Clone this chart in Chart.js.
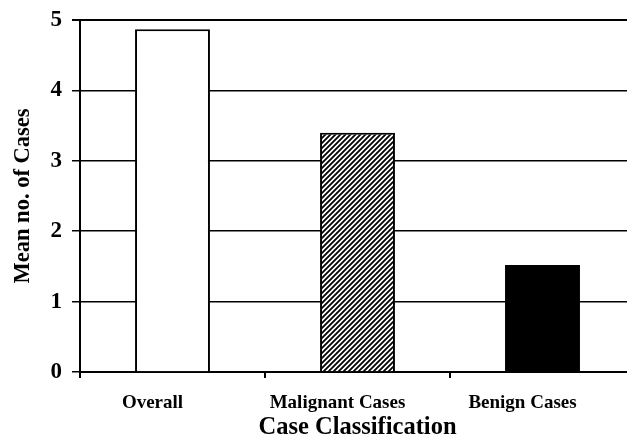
<!DOCTYPE html>
<html>
<head>
<meta charset="utf-8">
<script src="https://cdn.jsdelivr.net/npm/chart.js@4/dist/chart.umd.min.js"></script>
<style>
  html, body { margin: 0; padding: 0; background: #fff; overflow: hidden; }
  canvas { display: block; }
</style>
</head>
<body>
<canvas id="chart" width="660" height="442"></canvas>
<script>
// Mean number of cases by classification
const categories = ['Overall', 'Malignant Cases', 'Benign Cases'];
const meanCases = [4.87, 3.40, 1.52];
const yTicks = [0, 1, 2, 3, 4, 5];

const SERIF = '"Liberation Serif", "Times New Roman", serif';

// Fine diagonal hatch used for the malignant bar
function hatchPattern() {
  const size = 5;
  const c = document.createElement('canvas');
  c.width = size; c.height = size;
  const g = c.getContext('2d');
  g.fillStyle = '#fff';
  g.fillRect(0, 0, size, size);
  g.strokeStyle = '#000';
  g.lineWidth = 1.8;
  g.beginPath();
  g.moveTo(-1, size + 1); g.lineTo(size + 1, -1);
  g.moveTo(-1, 1); g.lineTo(1, -1);
  g.moveTo(size - 1, size + 1); g.lineTo(size + 1, size - 1);
  g.stroke();
  return g.createPattern(c, 'repeat');
}

const ctx = document.getElementById('chart').getContext('2d');
const fills = ['#ffffff', hatchPattern(), '#000000'];

new Chart(ctx, {
  type: 'bar',
  data: {
    labels: categories,
    datasets: [{
      data: meanCases,
      backgroundColor: fills,
      borderColor: '#000',
      borderWidth: [2, 2, 0],
      categoryPercentage: 1,
      barPercentage: 0.405
    }]
  },
  options: {
    responsive: false,
    animation: false,
    layout: { padding: { top: 20, right: 25, left: 0, bottom: 0 } },
    plugins: {
      legend: { display: false },
      tooltip: { enabled: false }
    },
    scales: {
      x: {
        offset: true,
        grid: {
          offset: true,
          drawOnChartArea: false,
          drawTicks: true,
          tickLength: 6,
          color: '#000',
          lineWidth: 2
        },
        border: { color: '#000', width: 2 },
        ticks: {
          color: '#000',
          padding: 14,
          labelOffset: -20,
          maxRotation: 0,
          autoSkip: false,
          font: { family: SERIF, size: 19, weight: 'bold' }
        },
        title: {
          display: true,
          text: 'Case Classification',
          color: '#000',
          padding: { top: 0, bottom: 0 },
          font: { family: SERIF, size: 24.5, weight: 'bold' }
        },
        afterFit: (scale) => {
          scale.height = 70;
          scale.paddingLeft = 0;
          scale.paddingRight = 0;
        }
      },
      y: {
        min: 0,
        max: 5,
        afterBuildTicks: (scale) => { scale.ticks = yTicks.map(v => ({ value: v })); },
        grid: {
          color: '#000',
          lineWidth: (c) => (c.tick && c.tick.value === 5 ? 2 : 1.5),
          drawTicks: true,
          tickLength: 8,
          tickColor: '#000'
        },
        border: { color: '#000', width: 2 },
        ticks: {
          color: '#000',
          padding: 10,
          font: { family: SERIF, size: 23, weight: 'bold' }
        },
        title: {
          display: true,
          text: 'Mean no. of Cases',
          color: '#000',
          padding: { top: 10, bottom: 0 },
          font: { family: SERIF, size: 22.5, weight: 'bold' }
        },
        afterFit: (scale) => {
          scale.width = 80;
          scale.paddingTop = 0;
          scale.paddingBottom = 0;
        }
      }
    }
  }
});
</script>
</body>
</html>
